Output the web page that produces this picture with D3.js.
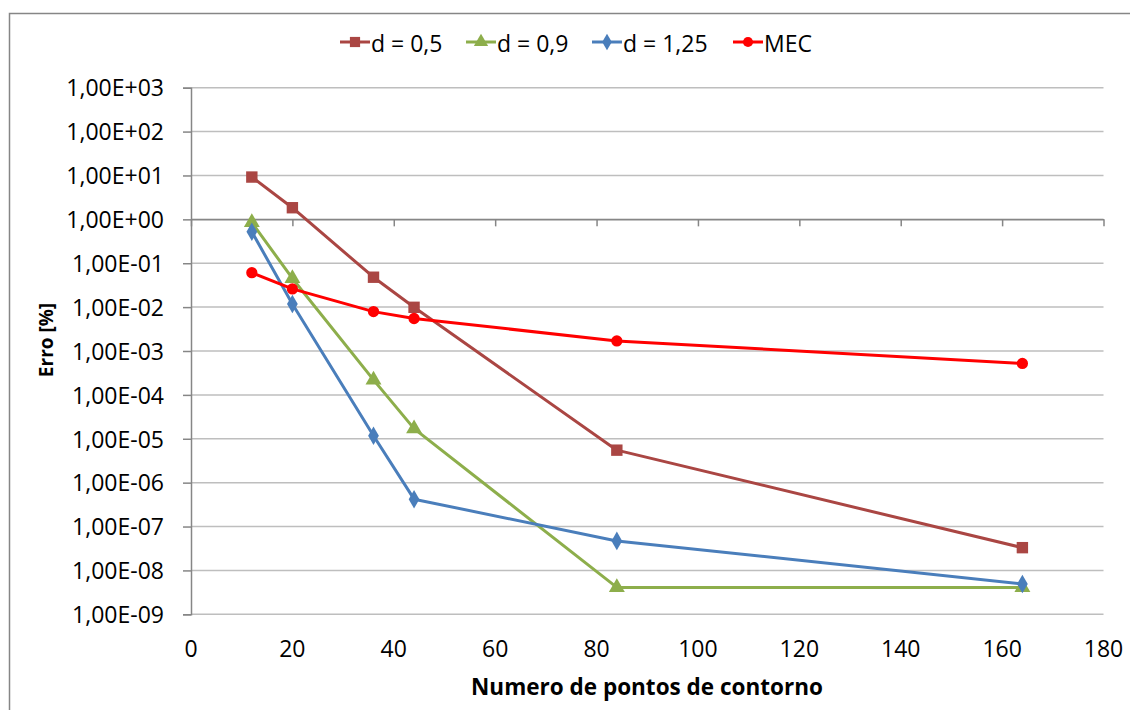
<!DOCTYPE html>
<html>
<head>
<meta charset="utf-8">
<script src="https://cdn.jsdelivr.net/npm/d3@7"></script>
<style>
  body { margin: 0; background: #fff; }
  svg { display: block; font-family: "Open Sans", Lato, sans-serif; }
</style>
</head>
<body>
<svg class="chart"></svg>
<script>
const width = 1130
const height = 710

// numero de pontos de contorno
const pontos = [12, 20, 36, 44, 84, 164]
// erro [%] por serie
const d05 = [9.2, 1.84, 0.048, 0.0099, 5.5e-6, 3.3e-8]
const d09 = [0.85, 0.045, 2.2e-4, 1.7e-5, 4.1e-9, 4.1e-9]
const d125 = [0.52, 0.0118, 1.17e-5, 4.2e-7, 4.7e-8, 4.9e-9]
const mec = [0.061, 0.026, 0.0079, 0.0055, 0.0017, 5.2e-4]

const seriesNames = ["d = 0,5", "d = 0,9", "d = 1,25", "MEC"]
const xTicks = [0, 20, 40, 60, 80, 100, 120, 140, 160, 180]
const yTicks = [1e-9, 1e-8, 1e-7, 1e-6, 1e-5, 1e-4, 1e-3, 1e-2, 1e-1, 1e0, 1e1, 1e2, 1e3]

const series = [
    { name: seriesNames[0], values: d05, color: "#AA4643", symbol: d3.symbolSquare, size: 130 },
    { name: seriesNames[1], values: d09, color: "#8DAE4B", symbol: d3.symbolTriangle, size: 110 },
    { name: seriesNames[2], values: d125, color: "#4A7EBB", symbol: d3.symbolDiamond, size: 100 },
    { name: seriesNames[3], values: mec, color: "#FF0000", symbol: d3.symbolCircle, size: 100 },
]

const svg = d3.select("svg.chart")
    .attr("width", width)
    .attr("height", height)

// chart border
svg.append("rect")
    .attr("x", 9.5).attr("y", 13.5)
    .attr("width", 1130).attr("height", 720)
    .attr("fill", "none")
    .attr("stroke", "#868686")
    .attr("stroke-width", 1.5)

const x = d3.scaleLinear().domain([0, 180]).range([191, 1103.5])
const y = d3.scaleLog().domain([1e-9, 1e3]).range([614.3, 87.7])

// excel style 1,00E+03
const fmt = v => {
    const e = Math.round(Math.log10(v))
    const s = e < 0 ? "-" : "+"
    return "1,00E" + s + String(Math.abs(e)).padStart(2, "0")
}

// gridlines
svg.append("g")
    .selectAll("line")
    .data(yTicks)
    .join("line")
    .attr("x1", x(0)).attr("x2", x(180))
    .attr("y1", d => y(d)).attr("y2", d => y(d))
    .attr("stroke", "#BEBEBE")
    .attr("stroke-width", 1.5)

// y axis
const yAxis = svg.append("g")
    .attr("transform", `translate(${x(0)},0)`)
    .call(d3.axisLeft(y).tickValues(yTicks).tickFormat(fmt).tickSize(8).tickPadding(19))
yAxis.select(".domain").attr("stroke", "#868686").attr("stroke-width", 1.5)
yAxis.selectAll(".tick line").attr("stroke", "#868686").attr("stroke-width", 1.5)
yAxis.selectAll(".tick text")
    .attr("font-size", 23)
    .attr("fill", "#000")
    .attr("dy", "0.36em")
    .style("font-family", "'Open Sans', sans-serif")

// x axis crosses at 1,00E+00, labels at the bottom
const xAxis = svg.append("g")
    .attr("transform", `translate(0,${y(1)})`)
    .call(d3.axisBottom(x).tickValues(xTicks).tickFormat(d3.format("d")).tickSize(7).tickSizeOuter(0))
xAxis.select(".domain").attr("stroke", "#868686").attr("stroke-width", 1.5)
xAxis.selectAll(".tick line").attr("stroke", "#868686").attr("stroke-width", 1.5)
xAxis.selectAll(".tick text").remove()

svg.append("g")
    .selectAll("text")
    .data(xTicks)
    .join("text")
    .attr("x", d => x(d))
    .attr("y", 657)
    .attr("text-anchor", "middle")
    .attr("font-size", 23)
    .text(d => d)

// axis titles
svg.append("text")
    .attr("x", 647).attr("y", 695)
    .attr("text-anchor", "middle")
    .attr("font-size", 22.5)
    .attr("font-weight", "bold")
    .text("Numero de pontos de contorno")

svg.append("text")
    .attr("transform", "translate(53,340) rotate(-90)")
    .attr("text-anchor", "middle")
    .attr("font-size", 19)
    .attr("font-weight", "bold")
    .text("Erro [%]")

// lines + markers
const line = d3.line()
    .x((d, i) => x(pontos[i]))
    .y(d => y(d))

const g = svg.append("g")
series.forEach(s => {
    g.append("path")
        .datum(s.values)
        .attr("fill", "none")
        .attr("stroke", s.color)
        .attr("stroke-width", 3)
        .attr("stroke-linejoin", "round")
        .attr("d", line)
})
series.forEach(s => {
    g.append("g")
        .selectAll("path")
        .data(s.values)
        .join("path")
        .attr("transform", (d, i) => `translate(${x(pontos[i])},${y(d)})`)
        .attr("d", d3.symbol().type(s.symbol).size(s.size))
        .attr("fill", s.color)
})

// legend
const legendX = [340, 466, 592, 733]
const legend = svg.append("g")
    .selectAll("g")
    .data(series)
    .join("g")
    .attr("transform", (d, i) => `translate(${legendX[i]},42)`)
legend.append("line")
    .attr("x1", 0).attr("x2", 30)
    .attr("stroke", d => d.color)
    .attr("stroke-width", 3)
legend.append("path")
    .attr("transform", "translate(15,0)")
    .attr("d", d => d3.symbol().type(d.symbol).size(d.size * 0.8)())
    .attr("fill", d => d.color)
legend.append("text")
    .attr("x", 31)
    .attr("y", 10)
    .attr("font-size", 23)
    .text(d => d.name)
</script>
</body>
</html>
